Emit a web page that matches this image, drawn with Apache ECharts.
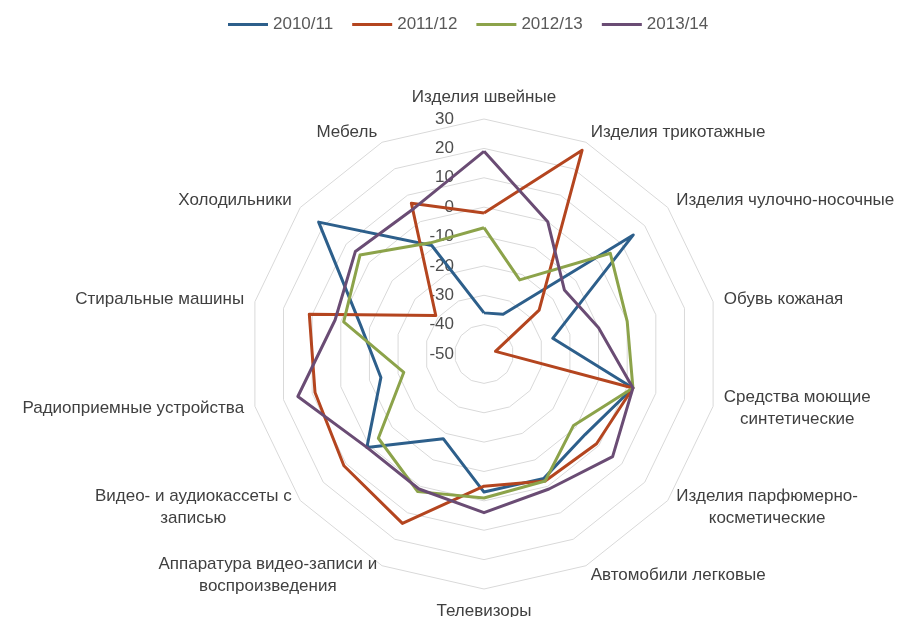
<!DOCTYPE html>
<html>
<head>
<meta charset="utf-8">
<script src="https://cdn.jsdelivr.net/npm/echarts@6/dist/echarts.min.js"></script>
<style>
  html, body { margin: 0; padding: 0; background: #fff; }
  #chart { width: 907px; height: 617px; }
</style>
</head>
<body>
<div id="chart"></div>
<script>
// categories clockwise from the top
const categories = [
  'Изделия швейные',
  'Изделия трикотажные',
  'Изделия чулочно-носочные',
  'Обувь кожаная',
  'Средства моющие\nсинтетические',
  'Изделия парфюмерно-\nкосметические',
  'Автомобили легковые',
  'Телевизоры',
  'Аппаратура видео-записи и\nвоспроизведения',
  'Видео- и аудиокассеты с\nзаписью',
  'Радиоприемные устройства',
  'Стиральные машины',
  'Холодильники',
  'Мебель'
];
const seriesNames = ['2010/11', '2011/12', '2012/13', '2013/14'];
const v2010 = [-36, -35, 15, -26, 2, -6, -3, -3, -18, 1, -14, -7, 22, -9];
const v2011 = [-2, 27, -26, -46, 2, -1, -2, -5, 14, 11, 9, 11, -29, 7];
const v2012 = [-7, -22, 5, 0, 2, -11, -2, -1, 2, -4, -22, -1, 4, -8];
const v2013 = [19, 0, -15, -10, 2, 6, 1, 4, 1, 1, 15, 2, 6, 5];
const colors = ['#2D5F8B', '#B4451F', '#8CA34A', '#6A4C74'];

// echarts lays indicators out counterclockwise, so keep the first and reverse the rest
const order = [0].concat(categories.map((c, i) => i).slice(1).reverse());
const reorder = arr => order.map(i => arr[i]);

const indicators = order.map((i, k) => {
  const ind = { name: categories[i], min: -50, max: 30 };
  if (k === 0) {
    ind.axisLabel = {
      show: true,
      color: '#4d4d4d',
      fontSize: 17,
      fontFamily: 'Liberation Sans',
      margin: 30,
      showMinLabel: true,
      showMaxLabel: true
    };
  }
  return ind;
});

const chart = echarts.init(document.getElementById('chart'));
chart.setOption({
  animation: false,
  legend: {
    top: 11,
    left: 223,
    itemWidth: 40,
    itemHeight: 3,
    itemGap: 19,
    icon: 'rect',
    textStyle: { color: '#595959', fontSize: 17, fontFamily: 'Liberation Sans' },
    data: seriesNames
  },
  radar: {
    center: [484, 354],
    radius: 235,
    splitNumber: 8,
    shape: 'polygon',
    indicator: indicators,
    axisName: {
      color: '#404040',
      fontSize: 17,
      fontFamily: 'Liberation Sans',
      formatter: name => name.split('\n').map(s => '{c|' + s + '}').join('\n'),
      rich: {
        c: { align: 'center', fontSize: 17, fontFamily: 'Liberation Sans', color: '#404040', lineHeight: 22 }
      }
    },
    nameGap: 11,
    axisLine: { show: false },
    axisTick: { show: false },
    axisLabel: { show: false },
    splitArea: { show: false },
    splitLine: { lineStyle: { color: '#D9D9D9', width: 1 } }
  },
  series: [{
    type: 'radar',
    symbol: 'none',
    data: [v2010, v2011, v2012, v2013].map((vals, s) => ({
      name: seriesNames[s],
      value: reorder(vals),
      lineStyle: { color: colors[s], width: 3 },
      itemStyle: { color: colors[s] }
    }))
  }]
});
</script>
</body>
</html>
